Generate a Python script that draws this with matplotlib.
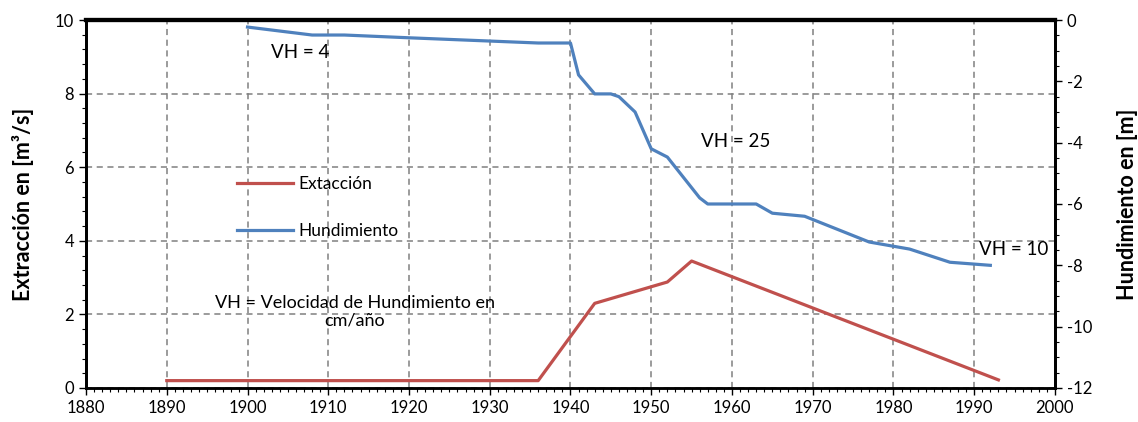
import matplotlib
matplotlib.use('Agg')
import matplotlib.pyplot as plt
from matplotlib.ticker import MultipleLocator

plt.rcParams['font.family'] = ['Lato', 'DejaVu Sans']
plt.rcParams['axes.unicode_minus'] = False

# Extracción (m3/s)
anios_ext = [1890, 1936, 1943, 1952, 1955, 1993]
extraccion = [0.2, 0.2, 2.3, 2.88, 3.45, 0.22]

# Hundimiento (m)
anios_hund = [1900, 1908, 1912, 1920, 1936, 1940, 1941, 1943, 1945, 1946, 1948,
              1950, 1952, 1956, 1957, 1963, 1965, 1969, 1977, 1982, 1987, 1992]
hundimiento = [-0.23, -0.49, -0.49, -0.58, -0.75, -0.75, -1.79, -2.41, -2.41, -2.5, -3.0,
               -4.2, -4.47, -5.8, -6.0, -6.0, -6.3, -6.4, -7.24, -7.47, -7.9, -8.0]

rojo = '#C0504D'
azul = '#4F81BD'

fig = plt.figure(figsize=(11.38, 4.22), dpi=100)
ax = fig.add_axes([0.0756, 0.0806, 0.8514, 0.872])
ax2 = ax.twinx()

l1, = ax.plot(anios_ext, extraccion, color=rojo, lw=2.3, label='Extacción')
l2, = ax2.plot(anios_hund, hundimiento, color=azul, lw=2.3, label='Hundimiento')

ax.set_xlim(1880, 2000)
ax.set_ylim(0, 10)
ax2.set_ylim(-12, 0)
ax.xaxis.set_major_locator(MultipleLocator(10))
ax.xaxis.set_minor_locator(MultipleLocator(1))
ax.yaxis.set_major_locator(MultipleLocator(2))
ax.yaxis.set_minor_locator(MultipleLocator(0.4))
ax2.yaxis.set_major_locator(MultipleLocator(2))
ax2.yaxis.set_minor_locator(MultipleLocator(0.5))

ax.grid(True, which='major', color='#808080', ls=(0, (4, 3)), lw=1.1)
ax.set_axisbelow(True)

for a in (ax, ax2):
    for s in a.spines.values():
        s.set_color('black')
    a.spines['top'].set_linewidth(3)
    a.spines['bottom'].set_linewidth(1.8)
    a.spines['left'].set_linewidth(2)
    a.spines['right'].set_linewidth(2)
    a.tick_params(which='major', direction='out', length=5, width=1, labelsize=12)
    a.tick_params(which='minor', direction='out', length=3, width=0.8)

ax.set_ylabel('Extracción en [m³/s]', fontsize=15.5, fontweight='bold', labelpad=15)
ax2.set_ylabel('Hundimiento en [m]', fontsize=15.5, fontweight='bold', labelpad=18)

ax.text(1906.5, 9.13, 'VH = 4', fontsize=13.5, ha='center', va='center')
ax.text(1960.4, 6.71, 'VH = 25', fontsize=13.5, ha='center', va='center')
ax.text(1994.9, 3.75, 'VH = 10', fontsize=13.5, ha='center', va='center')
ax.text(1913.3, 2.07, 'VH = Velocidad de Hundimiento en\ncm/año', fontsize=13,
        ha='center', va='center', linespacing=1.15)

ax2.legend([l1, l2], ['Extacción', 'Hundimiento'], loc='upper left',
           bbox_to_anchor=(0.147, 0.6), frameon=False, fontsize=12.5,
           handlelength=3.2, handletextpad=0.3, labelspacing=1.8, borderpad=0)

fig.savefig('out.png', dpi=100)
